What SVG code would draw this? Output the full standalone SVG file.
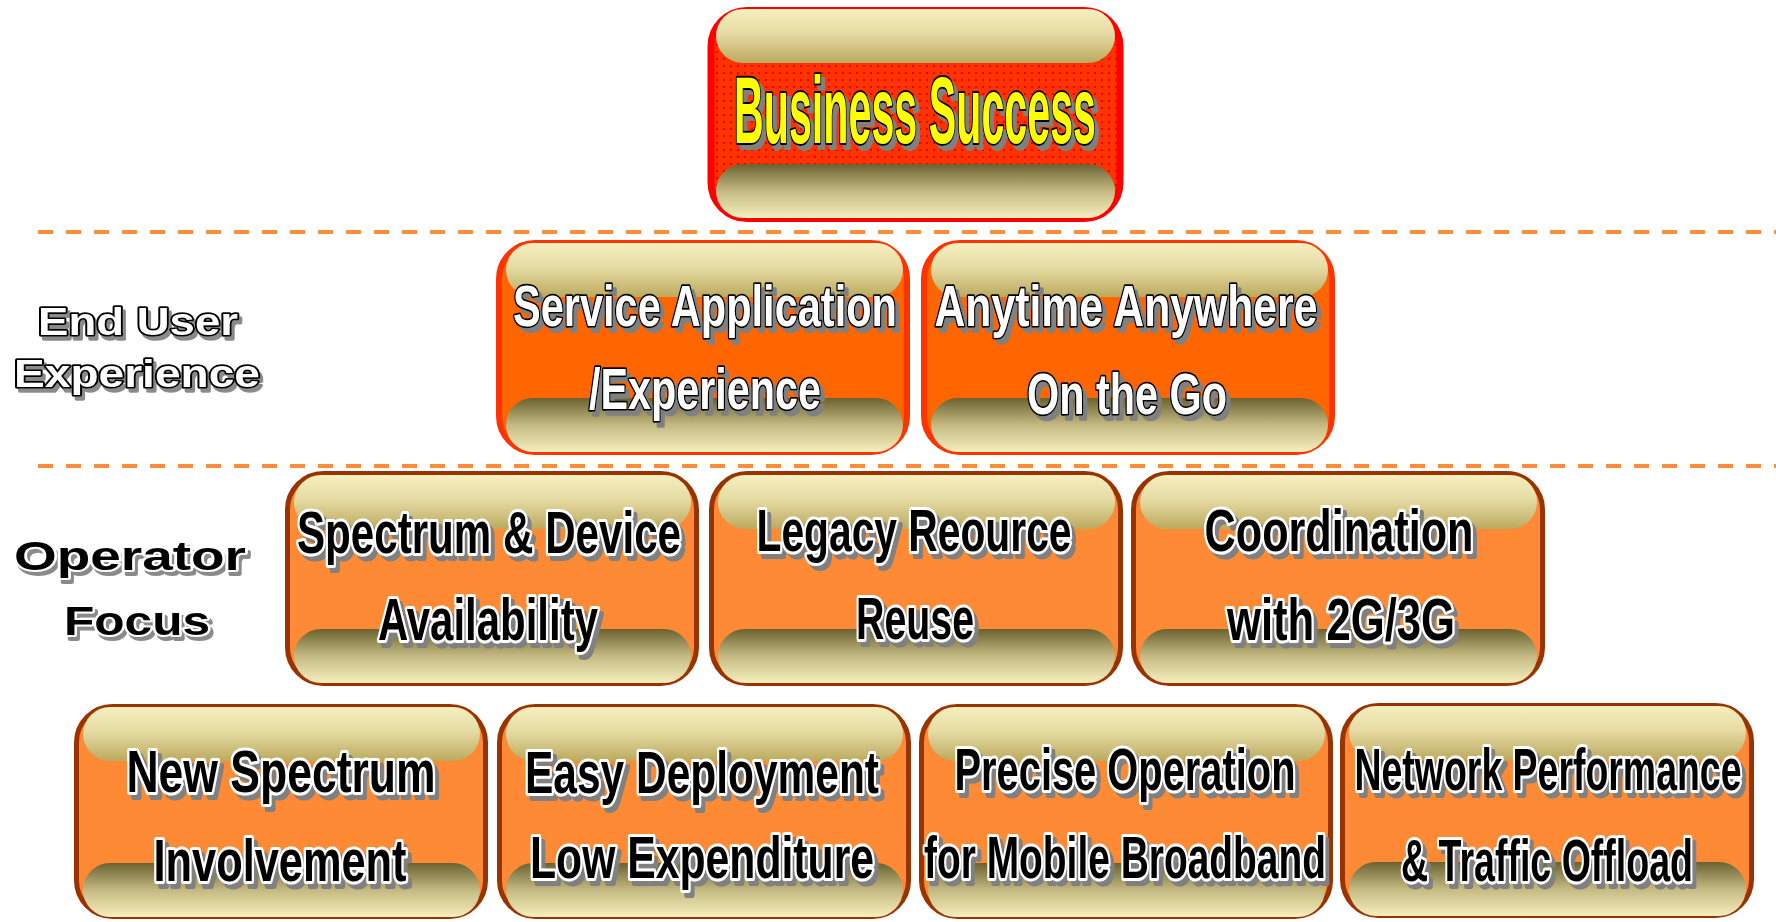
<svg xmlns="http://www.w3.org/2000/svg" width="1776" height="922" viewBox="0 0 1776 922">
<defs>
<linearGradient id="bandTop" x1="0" y1="0" x2="0" y2="1">
<stop offset="0" stop-color="#F5EFBE"/>
<stop offset="0.45" stop-color="#E6DBA4"/>
<stop offset="1" stop-color="#BBAA5E"/>
</linearGradient>
<linearGradient id="bandBot" x1="0" y1="0" x2="0" y2="1">
<stop offset="0" stop-color="#6A6230"/>
<stop offset="0.5" stop-color="#C4B981"/>
<stop offset="1" stop-color="#F5EFBE"/>
</linearGradient>
<pattern id="dots" width="7" height="7" patternUnits="userSpaceOnUse">
<rect width="7" height="7" fill="#FF3300"/>
<rect x="2" y="2" width="2" height="2" fill="#EE0000"/>
</pattern>
<filter id="shadow" x="-5%" y="-25%" width="115%" height="160%">
<feOffset in="SourceAlpha" dx="4" dy="5" result="off"/>
<feFlood flood-color="#808080"/>
<feComposite in2="off" operator="in" result="sh"/>
<feMerge><feMergeNode in="sh"/><feMergeNode in="SourceGraphic"/></feMerge>
</filter>
<filter id="shadowS" x="-5%" y="-25%" width="115%" height="160%">
<feOffset in="SourceAlpha" dx="3" dy="4" result="off"/>
<feFlood flood-color="#8A8A8A"/>
<feComposite in2="off" operator="in" result="sh"/>
<feMerge><feMergeNode in="sh"/><feMergeNode in="SourceGraphic"/></feMerge>
</filter>
</defs>
<style>
.sep { stroke:#FF8C3A; stroke-width:4; stroke-dasharray:15 13; fill:none; }
.boxTop { fill:url(#dots); stroke:#FF0000; stroke-width:7; }
.boxUser { fill:#FF6600; stroke:#FF3300; stroke-width:6; }
.boxOp { fill:#FF8A35; stroke:#993300; stroke-width:5; }
.bt { fill:url(#bandTop); }
.bb { fill:url(#bandBot); }
.t { font-family:"Liberation Sans", Arial, sans-serif; font-weight:bold; text-anchor:middle; paint-order:stroke fill; stroke-linejoin:round; filter:url(#shadow); }
.y { fill:#FFFF00; stroke:#000; stroke-width:4; font-size:95px; }
.w { fill:#FFFFFF; stroke:#000; stroke-width:3.5; font-size:58px; }
.k { fill:#000; stroke:#FFF; stroke-width:6; font-size:59px; }
.lw { fill:#FFFFFF; stroke:#000; stroke-width:3.5; font-size:39px; filter:url(#shadowS); }
.lk { fill:#000; stroke:#FFF; stroke-width:4; font-size:40px; filter:url(#shadowS); }
</style>
<rect width="1776" height="922" fill="#FFFFFF"/>

<g id="separators">
<line class="sep" x1="38" y1="232" x2="1776" y2="232"/>
<line class="sep" x1="38" y1="466" x2="1776" y2="466"/>
</g>

<g id="label-end-user">
<text class="t lw" x="138" y="335" textLength="200" lengthAdjust="spacingAndGlyphs">End User</text>
<text class="t lw" x="137" y="387" textLength="246" lengthAdjust="spacingAndGlyphs">Experience</text>
</g>
<g id="label-operator">
<text class="t lk" x="130" y="570" textLength="232" lengthAdjust="spacingAndGlyphs">Operator</text>
<text class="t lk" x="137" y="635" textLength="146" lengthAdjust="spacingAndGlyphs">Focus</text>
</g>

<g id="business-success">
<rect class="boxTop" x="711" y="10.5" width="409" height="208" rx="36"/>
<rect class="bt" x="716" y="9" width="399" height="54" rx="27"/>
<rect class="bb" x="716" y="164" width="399" height="54" rx="27"/>
<text class="t y" x="915" y="143" textLength="362" lengthAdjust="spacingAndGlyphs">Business Success</text>
</g>

<g id="service-application">
<rect class="boxUser" x="499" y="243" width="408" height="209" rx="36"/>
<rect class="bt" x="506" y="243" width="397" height="54" rx="27"/>
<rect class="bb" x="506" y="398" width="397" height="54" rx="27"/>
<text class="t w" x="705" y="326" textLength="384" lengthAdjust="spacingAndGlyphs">Service Application</text>
<text class="t w" x="705" y="409" textLength="232" lengthAdjust="spacingAndGlyphs">/Experience</text>
</g>

<g id="anytime-anywhere">
<rect class="boxUser" x="924" y="243" width="408" height="209" rx="36"/>
<rect class="bt" x="931" y="243" width="397" height="54" rx="27"/>
<rect class="bb" x="931" y="398" width="397" height="54" rx="27"/>
<text class="t w" x="1126" y="326" textLength="383" lengthAdjust="spacingAndGlyphs">Anytime Anywhere</text>
<text class="t w" x="1127" y="414" textLength="200" lengthAdjust="spacingAndGlyphs">On the Go</text>
</g>

<g id="spectrum-device">
<rect class="boxOp" x="287.5" y="473.5" width="409" height="210" rx="36"/>
<rect class="bt" x="294" y="475" width="397" height="54" rx="27"/>
<rect class="bb" x="294" y="629" width="397" height="54" rx="27"/>
<text class="t k" x="489" y="553" textLength="384" lengthAdjust="spacingAndGlyphs">Spectrum &amp; Device</text>
<text class="t k" x="488" y="640" textLength="220" lengthAdjust="spacingAndGlyphs">Availability</text>
</g>

<g id="legacy-resource">
<rect class="boxOp" x="711.5" y="473.5" width="409" height="210" rx="36"/>
<rect class="bt" x="718" y="475" width="397" height="54" rx="27"/>
<rect class="bb" x="718" y="629" width="397" height="54" rx="27"/>
<text class="t k" x="914" y="551" textLength="315" lengthAdjust="spacingAndGlyphs">Legacy Reource</text>
<text class="t k" x="915" y="639" textLength="118" lengthAdjust="spacingAndGlyphs">Reuse</text>
</g>

<g id="coordination">
<rect class="boxOp" x="1133.5" y="473.5" width="409" height="210" rx="36"/>
<rect class="bt" x="1140" y="475" width="397" height="54" rx="27"/>
<rect class="bb" x="1140" y="629" width="397" height="54" rx="27"/>
<text class="t k" x="1339" y="551" textLength="269" lengthAdjust="spacingAndGlyphs">Coordination</text>
<text class="t k" x="1341" y="640" textLength="228" lengthAdjust="spacingAndGlyphs">with 2G/3G</text>
</g>

<g id="new-spectrum">
<rect class="boxOp" x="76.5" y="706.5" width="409" height="210" rx="36"/>
<rect class="bt" x="83" y="707" width="397" height="54" rx="27"/>
<rect class="bb" x="83" y="863" width="397" height="54" rx="27"/>
<text class="t k" x="281" y="792" textLength="309" lengthAdjust="spacingAndGlyphs">New Spectrum</text>
<text class="t k" x="280" y="881" textLength="253" lengthAdjust="spacingAndGlyphs">Involvement</text>
</g>

<g id="easy-deployment">
<rect class="boxOp" x="499.5" y="706.5" width="409" height="210" rx="36"/>
<rect class="bt" x="506" y="707" width="397" height="54" rx="27"/>
<rect class="bb" x="506" y="863" width="397" height="54" rx="27"/>
<text class="t k" x="702" y="793" textLength="354" lengthAdjust="spacingAndGlyphs">Easy Deployment</text>
<text class="t k" x="702" y="878" textLength="344" lengthAdjust="spacingAndGlyphs">Low Expenditure</text>
</g>

<g id="precise-operation">
<rect class="boxOp" x="921.5" y="706.5" width="409" height="210" rx="36"/>
<rect class="bt" x="928" y="707" width="397" height="54" rx="27"/>
<rect class="bb" x="928" y="863" width="397" height="54" rx="27"/>
<text class="t k" x="1125" y="790" textLength="341" lengthAdjust="spacingAndGlyphs">Precise Operation</text>
<text class="t k" x="1125" y="878" textLength="402" lengthAdjust="spacingAndGlyphs">for Mobile Broadband</text>
</g>

<g id="network-performance">
<rect class="boxOp" x="1342.5" y="705.5" width="409" height="210" rx="36"/>
<rect class="bt" x="1349" y="706" width="397" height="54" rx="27"/>
<rect class="bb" x="1349" y="862" width="397" height="54" rx="27"/>
<text class="t k" x="1548" y="790" textLength="387" lengthAdjust="spacingAndGlyphs">Network Performance</text>
<text class="t k" x="1547" y="881" textLength="292" lengthAdjust="spacingAndGlyphs">&amp; Traffic Offload</text>
</g>
</svg>
